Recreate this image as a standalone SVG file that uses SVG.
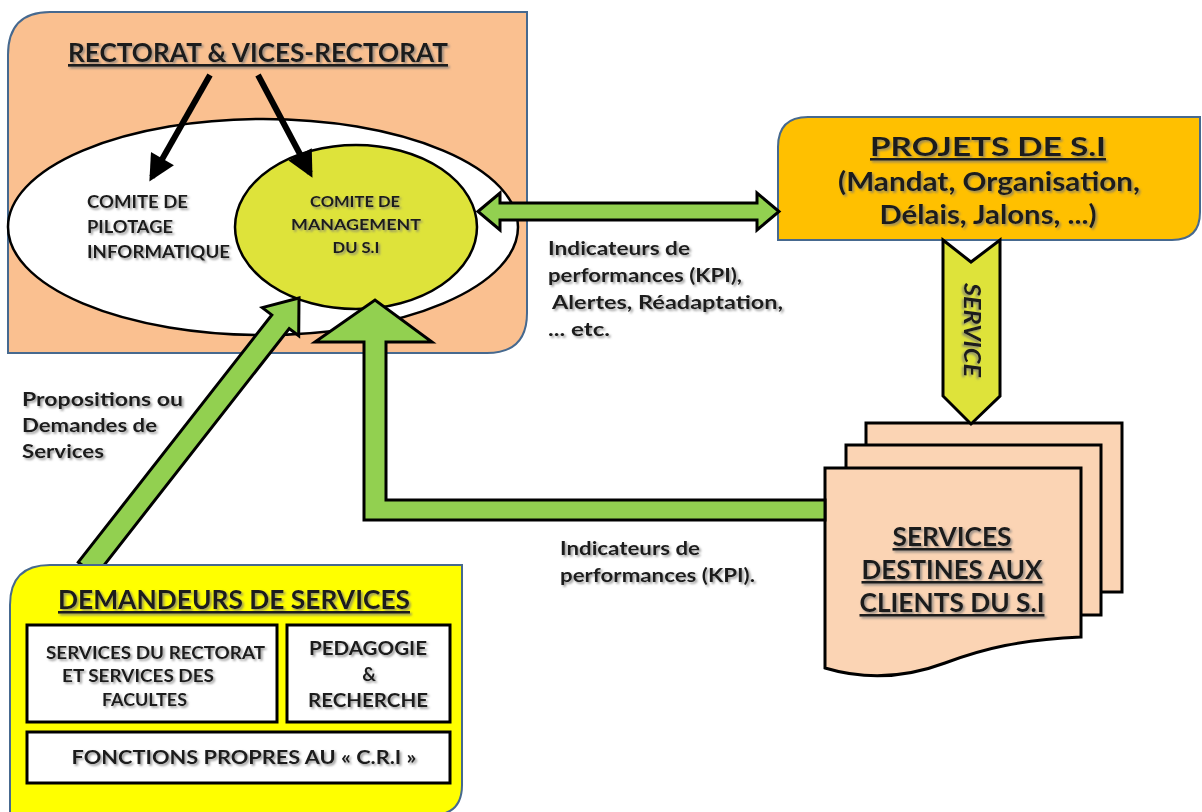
<svg xmlns="http://www.w3.org/2000/svg" width="1202" height="812" viewBox="0 0 1202 812">
<defs>
<filter id="sh" x="-10%" y="-30%" width="120%" height="160%">
<feDropShadow dx="1.8" dy="1.8" stdDeviation="1.2" flood-color="#777" flood-opacity="0.75"/>
</filter>
<marker id="ah" viewBox="0 0 10 10" refX="8" refY="5" markerWidth="4.8" markerHeight="4.4" orient="auto">
<path d="M0,0 L10,5 L0,10 Z" fill="#000"/>
</marker>
</defs>
<style>
text{font-family:Lato,"Open Sans","Liberation Sans",sans-serif;font-weight:700;fill:#1a1a1a}
.t{filter:url(#sh)}
.u{text-decoration:underline}
.box{stroke:#46698F;stroke-width:2}
.blk{stroke:#000;stroke-width:3}
.grn{fill:#92D050;stroke:#000;stroke-width:3;stroke-linejoin:miter}
</style>
<rect width="1202" height="812" fill="#fff"/>

<g id="rectorat">
<path class="box" d="M8,55 Q8,12 50,12 L527,12 L527,313 Q527,353 487,353 L8,353 Z" fill="#FAC090"/>
<text class="t u" x="258" y="62" font-size="27" text-anchor="middle" textLength="380" lengthAdjust="spacingAndGlyphs">RECTORAT &amp; VICES-RECTORAT</text>
</g>

<g id="comite-pilotage">
<ellipse cx="263" cy="227" rx="255" ry="108" fill="#fff" stroke="#000" stroke-width="2.5"/>
<text class="t" font-size="16.5"><tspan x="87" y="208" textLength="101" lengthAdjust="spacingAndGlyphs">COMITE DE</tspan><tspan x="87" y="233" textLength="86" lengthAdjust="spacingAndGlyphs">PILOTAGE</tspan><tspan x="87" y="258" textLength="143" lengthAdjust="spacingAndGlyphs">INFORMATIQUE</tspan></text>
</g>

<g id="comite-management">
<ellipse cx="356" cy="227" rx="121" ry="82" fill="#DEE33A" stroke="#000" stroke-width="2.5"/>
<text class="t" font-size="15" text-anchor="middle"><tspan x="355" y="207" textLength="90" lengthAdjust="spacingAndGlyphs">COMITE DE</tspan><tspan x="356" y="230" textLength="130" lengthAdjust="spacingAndGlyphs">MANAGEMENT</tspan><tspan x="356" y="253" textLength="47" lengthAdjust="spacingAndGlyphs">DU S.I</tspan></text>
</g>

<g id="projets">
<path class="box" d="M778,147 Q778,117 808,117 L1200,117 L1200,212 Q1200,240 1172,240 L778,240 Z" fill="#FFC000"/>
<text class="t" font-size="26" text-anchor="middle"><tspan class="u" x="988" y="156" textLength="236" lengthAdjust="spacingAndGlyphs">PROJETS DE S.I</tspan><tspan x="989" y="191" textLength="302" lengthAdjust="spacingAndGlyphs">(Mandat, Organisation,</tspan><tspan x="988" y="224" textLength="217" lengthAdjust="spacingAndGlyphs">Délais, Jalons, ...)</tspan></text>
</g>

<g id="services-clients">
<rect class="blk" x="866" y="423" width="256" height="169" fill="#FBD4B4"/>
<rect class="blk" x="846" y="445" width="255" height="170" fill="#FBD4B4"/>
<path class="blk" d="M825,468 L1081,468 L1081,637 C1020,640 985,648 945,663 C905,678 865,680 825,668 Z" fill="#FBD4B4"/>
<text class="t u" font-size="26" text-anchor="middle"><tspan x="952" y="546" textLength="119" lengthAdjust="spacingAndGlyphs">SERVICES</tspan><tspan x="952" y="579" textLength="181" lengthAdjust="spacingAndGlyphs">DESTINES AUX</tspan><tspan x="952" y="612" textLength="185" lengthAdjust="spacingAndGlyphs">CLIENTS DU S.I</tspan></text>
</g>

<g id="connectors">
<line x1="210" y1="75" x2="152" y2="177" stroke="#000" stroke-width="6" marker-end="url(#ah)"/>
<line x1="258" y1="75" x2="310" y2="173" stroke="#000" stroke-width="6" marker-end="url(#ah)"/>
<polygon class="grn" points="478,211.5 500,193 500,203 757,203 757,193 779,211.5 757,230 757,220 500,220 500,230"/>
<polygon points="943,240 971,262 1000,240 1000,396 971,424 943,396" fill="#DEE33A" stroke="#000" stroke-width="3"/>
<text class="t" x="972" y="338" font-size="23" font-style="italic" text-anchor="middle" transform="rotate(90 972 330)" textLength="94" lengthAdjust="spacingAndGlyphs">SERVICE</text>
<polygon class="grn" points="825,500 386,500 386,342 432,342 375,300 315,342 364,342 364,520 825,520"/>
<polygon class="grn" points="78.3,562.2 271.8,314.9 262.3,307.6 299,298 298.7,335.8 289.2,328.5 95.7,575.8"/>
</g>

<g id="demandeurs">
<path class="box" d="M10,815 L10,605 Q10,565 50,565 L462,565 L462,785 Q462,815 432,815 Z" fill="#FFFF00"/>
<text class="t u" x="234" y="609" font-size="26" text-anchor="middle" textLength="352" lengthAdjust="spacingAndGlyphs">DEMANDEURS DE SERVICES</text>
<rect class="blk" x="27" y="625" width="250" height="97" fill="#fff"/>
<rect class="blk" x="287" y="625" width="163" height="97" fill="#fff"/>
<rect class="blk" x="27" y="732" width="423" height="51" fill="#fff"/>
<text class="t" font-size="16.5"><tspan x="46" y="659" textLength="219" lengthAdjust="spacingAndGlyphs">SERVICES DU RECTORAT</tspan><tspan x="62" y="682" textLength="152" lengthAdjust="spacingAndGlyphs">ET SERVICES DES</tspan><tspan x="102" y="706" textLength="85" lengthAdjust="spacingAndGlyphs">FACULTES</tspan></text>
<text class="t" font-size="19" text-anchor="middle"><tspan x="368" y="655" textLength="118" lengthAdjust="spacingAndGlyphs">PEDAGOGIE</tspan><tspan x="369" y="681">&amp;</tspan><tspan x="368" y="707" textLength="120" lengthAdjust="spacingAndGlyphs">RECHERCHE</tspan></text>
<text class="t" x="244" y="764" font-size="19" text-anchor="middle" textLength="345" lengthAdjust="spacingAndGlyphs">FONCTIONS PROPRES AU « C.R.I »</text>
</g>

<g id="labels">
<text class="t" font-size="18"><tspan x="548" y="255" textLength="142" lengthAdjust="spacingAndGlyphs">Indicateurs de</tspan><tspan x="548" y="282" textLength="194" lengthAdjust="spacingAndGlyphs">performances (KPI),</tspan><tspan x="552" y="309" textLength="231" lengthAdjust="spacingAndGlyphs">Alertes,  Réadaptation,</tspan><tspan x="548" y="336" textLength="62" lengthAdjust="spacingAndGlyphs">... etc.</tspan></text>
<text class="t" font-size="18"><tspan x="22" y="406" textLength="161" lengthAdjust="spacingAndGlyphs">Propositions ou</tspan><tspan x="22" y="432" textLength="135" lengthAdjust="spacingAndGlyphs">Demandes de</tspan><tspan x="22" y="458" textLength="82" lengthAdjust="spacingAndGlyphs">Services</tspan></text>
<text class="t" font-size="18"><tspan x="560" y="555" textLength="140" lengthAdjust="spacingAndGlyphs">Indicateurs de</tspan><tspan x="560" y="582" textLength="195" lengthAdjust="spacingAndGlyphs">performances (KPI).</tspan></text>
</g>
</svg>
